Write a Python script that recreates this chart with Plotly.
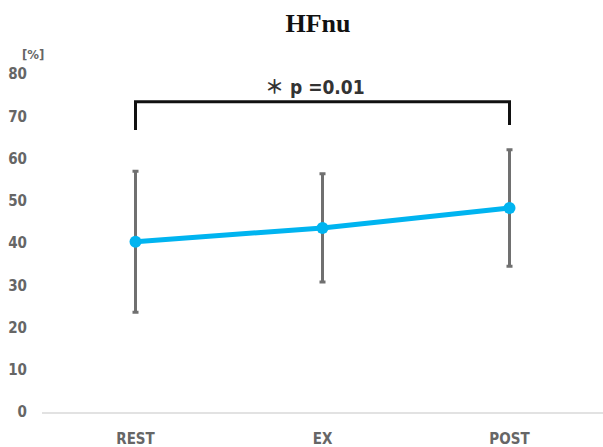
import plotly.graph_objects as go

categories = ["REST", "EX", "POST"]
means = [40.3, 43.6, 48.3]
sds = [16.7, 12.8, 13.8]
y_ticks = [0, 10, 20, 30, 40, 50, 60, 70, 80]

bracket_x = ["REST", "REST", "POST", "POST"]
bracket_y = [66.8, 73.5, 73.5, 68.0]
sig_text = "＊ p =0.01"
sig_y = 77.0

TICKFONT = "DejaVu Sans Condensed, Liberation Sans Narrow, sans-serif"

fig = go.Figure()
fig.add_trace(go.Scatter(
    x=categories, y=means, mode="lines+markers",
    line=dict(color="#00B4F0", width=5),
    marker=dict(color="#00B4F0", size=12),
    error_y=dict(type="data", array=sds, visible=True, color="#707070", thickness=3, width=3),
    showlegend=False,
))
fig.add_trace(go.Scatter(
    x=bracket_x, y=bracket_y, mode="lines",
    line=dict(color="#111111", width=3), showlegend=False,
))
fig.add_annotation(x=1, y=sig_y, xref="x", yref="y", text="<b>" + sig_text + "</b>", showarrow=False,
                   xshift=-8,
                   font=dict(family="DejaVu Sans Condensed, Noto Sans CJK JP, sans-serif", size=19, color="#333333"))
fig.add_annotation(x=0, y=1, xref="paper", yref="paper", xshift=-22, yshift=-13,
                   text="<b>[%]</b>", showarrow=False,
                   font=dict(family=TICKFONT, size=13, color="#666666"))

fig.update_layout(
    width=603, height=447,
    margin=dict(l=42, r=0, t=32, b=35),
    paper_bgcolor="white", plot_bgcolor="white",
    title=dict(text="<b>HFnu</b>", x=318 / 603, xanchor="center", y=1 - 23 / 447, yanchor="middle",
               font=dict(family="Liberation Serif, DejaVu Serif, serif", size=26, color="#111111")),
    xaxis=dict(type="category", range=[-0.5, 2.5], showgrid=False, showline=True, automargin=False,
               linecolor="#e2e2e2", linewidth=2, ticks="", ticklabelstandoff=12,
               tickfont=dict(family=TICKFONT, size=15, color="#666666", weight="bold")),
    yaxis=dict(range=[0, 90], tickvals=y_ticks, showgrid=False, zeroline=False, showline=False,
               ticks="", ticklabelstandoff=14, automargin=False,
               tickfont=dict(family=TICKFONT, size=15, color="#666666", weight="bold")),
)
fig.write_html("out.html")
